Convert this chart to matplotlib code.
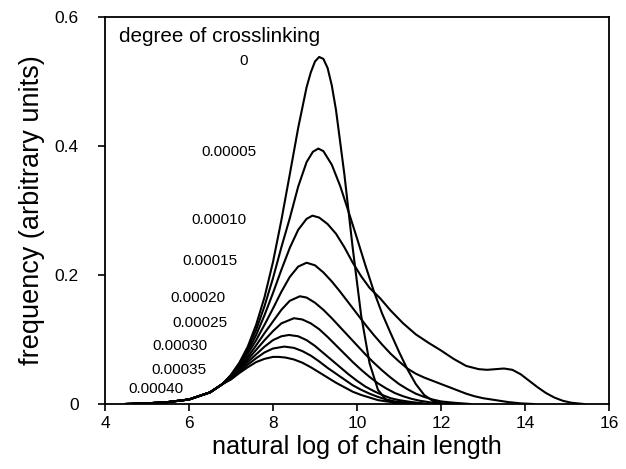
import matplotlib
matplotlib.use("Agg")
import matplotlib.pyplot as plt

plt.rcParams['font.family'] = ['Liberation Sans', 'DejaVu Sans']

# shared low-x part (all curves coincide there)
env_x = [4.5, 5.0, 5.5, 6.0, 6.5, 6.8]
env_y = [0.000, 0.001, 0.003, 0.007, 0.018, 0.031]

labels = ['0', '0.00005', '0.00010', '0.00015', '0.00020',
          '0.00025', '0.00030', '0.00035', '0.00040']

x_0 = [7.0, 7.2, 7.4, 7.6, 7.8, 8.0, 8.2, 8.4, 8.6, 8.8, 8.9, 9.0, 9.1, 9.2,
       9.3, 9.4, 9.5, 9.7, 9.9, 10.1, 10.3, 10.5, 10.7, 10.9, 11.2]
y_0 = [0.045, 0.064, 0.089, 0.123, 0.166, 0.220, 0.285, 0.356, 0.428, 0.491,
       0.514, 0.531, 0.538, 0.535, 0.521, 0.494, 0.456, 0.356, 0.241, 0.137,
       0.063, 0.022, 0.006, 0.001, 0.000]

x_5 = [7.0, 7.2, 7.4, 7.6, 7.8, 8.0, 8.2, 8.4, 8.6, 8.8, 8.95, 9.08, 9.2,
       9.4, 9.6, 9.8, 10.0, 10.2, 10.4, 10.6, 10.8, 11.0, 11.2, 11.4, 11.6,
       11.8, 12.0, 12.3]
y_5 = [0.045, 0.063, 0.086, 0.115, 0.152, 0.195, 0.243, 0.288, 0.337, 0.375,
       0.391, 0.396, 0.392, 0.371, 0.338, 0.298, 0.257, 0.215, 0.175, 0.140,
       0.110, 0.081, 0.054, 0.031, 0.014, 0.005, 0.001, 0.000]

x_10 = [7.0, 7.2, 7.4, 7.6, 7.8, 8.0, 8.2, 8.4, 8.6, 8.8, 8.94, 9.1, 9.3, 9.5,
        9.7, 9.9, 10.1, 10.3, 10.55, 10.8, 11.1, 11.4, 11.7, 12.0, 12.3, 12.6,
        12.9, 13.1, 13.3, 13.5, 13.7, 13.9, 14.1, 14.3, 14.5, 14.7, 14.9,
        15.1, 15.4]
y_10 = [0.044, 0.061, 0.082, 0.107, 0.138, 0.172, 0.208, 0.242, 0.270, 0.287,
        0.292, 0.289, 0.279, 0.264, 0.243, 0.219, 0.198, 0.180, 0.164, 0.145,
        0.125, 0.108, 0.095, 0.083, 0.070, 0.059, 0.054, 0.053, 0.054, 0.055,
        0.053, 0.046, 0.036, 0.026, 0.017, 0.010, 0.005, 0.002, 0.000]

x_15 = [7.0, 7.2, 7.4, 7.6, 7.8, 8.0, 8.2, 8.4, 8.6, 8.8, 9.0, 9.2, 9.4, 9.6,
        9.8, 10.0, 10.2, 10.4, 10.6, 10.8, 11.0, 11.2, 11.4, 11.6, 11.8, 12.0,
        12.2, 12.4, 12.6, 12.8, 13.0, 13.3, 13.6, 13.9, 14.2]
y_15 = [0.043, 0.059, 0.078, 0.099, 0.123, 0.148, 0.174, 0.197, 0.213, 0.219,
        0.215, 0.204, 0.190, 0.174, 0.157, 0.140, 0.123, 0.107, 0.092, 0.078,
        0.066, 0.055, 0.047, 0.041, 0.036, 0.031, 0.026, 0.021, 0.016, 0.012,
        0.009, 0.006, 0.003, 0.001, 0.000]

x_20 = [7.0, 7.2, 7.4, 7.6, 7.8, 8.0, 8.2, 8.4, 8.64, 8.8, 9.0, 9.2, 9.4, 9.6,
        9.8, 10.0, 10.2, 10.4, 10.6, 10.8, 11.0, 11.2, 11.4, 11.6, 11.8, 12.0,
        12.3, 12.7]
y_20 = [0.042, 0.056, 0.073, 0.091, 0.110, 0.128, 0.146, 0.160, 0.167, 0.165,
        0.157, 0.146, 0.133, 0.119, 0.105, 0.091, 0.077, 0.064, 0.052, 0.041,
        0.031, 0.023, 0.016, 0.011, 0.007, 0.004, 0.002, 0.000]

x_25 = [7.0, 7.2, 7.4, 7.6, 7.8, 8.0, 8.2, 8.5, 8.7, 8.9, 9.1, 9.3, 9.5, 9.7,
        9.9, 10.1, 10.3, 10.5, 10.7, 10.9, 11.1, 11.3, 11.5, 11.8, 12.2]
y_25 = [0.041, 0.054, 0.069, 0.084, 0.099, 0.113, 0.125, 0.133, 0.131, 0.125,
        0.116, 0.104, 0.091, 0.078, 0.065, 0.053, 0.042, 0.032, 0.024, 0.017,
        0.012, 0.008, 0.005, 0.002, 0.000]

x_30 = [7.0, 7.2, 7.4, 7.6, 7.8, 8.0, 8.2, 8.38, 8.6, 8.8, 9.0, 9.2, 9.4, 9.6,
        9.8, 10.0, 10.2, 10.4, 10.6, 10.8, 11.0, 11.3, 11.7]
y_30 = [0.040, 0.052, 0.065, 0.077, 0.089, 0.099, 0.105, 0.107, 0.105, 0.099,
        0.090, 0.079, 0.068, 0.057, 0.046, 0.036, 0.027, 0.020, 0.014, 0.009,
        0.006, 0.003, 0.000]

x_35 = [7.0, 7.2, 7.4, 7.6, 7.8, 8.0, 8.27, 8.5, 8.7, 8.9, 9.1, 9.3, 9.5, 9.7,
        9.9, 10.1, 10.3, 10.5, 10.7, 10.9, 11.2, 11.6]
y_35 = [0.039, 0.050, 0.061, 0.071, 0.080, 0.086, 0.089, 0.087, 0.082, 0.075,
        0.066, 0.056, 0.047, 0.038, 0.029, 0.022, 0.016, 0.011, 0.007, 0.004,
        0.002, 0.000]

x_40 = [7.0, 7.2, 7.4, 7.6, 7.8, 8.0, 8.14, 8.3, 8.5, 8.7, 8.9, 9.1, 9.3, 9.5,
        9.7, 9.9, 10.1, 10.3, 10.5, 10.7, 11.0, 11.4]
y_40 = [0.038, 0.048, 0.057, 0.065, 0.070, 0.073, 0.073, 0.072, 0.069, 0.064,
        0.057, 0.049, 0.041, 0.033, 0.026, 0.019, 0.014, 0.010, 0.006, 0.004,
        0.002, 0.000]

curves = [(x_0, y_0), (x_5, y_5), (x_10, y_10), (x_15, y_15), (x_20, y_20),
          (x_25, y_25), (x_30, y_30), (x_35, y_35), (x_40, y_40)]

# where the curve labels sit (data coords, centre)
label_x = [7.29, 6.94, 6.71, 6.50, 6.22, 6.26, 5.79, 5.75, 5.21]
label_y = [0.531, 0.390, 0.286, 0.221, 0.164, 0.125, 0.090, 0.053, 0.023]

fig = plt.figure(figsize=(6.26, 4.69), dpi=100)
ax = fig.add_axes([0.1677, 0.1386, 0.8051, 0.8252])

for (cx, cy) in curves:
    ax.plot(env_x + cx, env_y + cy, color='black', lw=1.5,
            solid_joinstyle='round')

for lab, lx, ly in zip(labels, label_x, label_y):
    ax.text(lx, ly, lab, fontsize=11, ha='center', va='center')

ax.text(4.33, 0.569, 'degree of crosslinking', fontsize=14.9,
        ha='left', va='center')

ax.set_xlim(4, 16)
ax.set_ylim(0, 0.6)
ax.set_xticks([4, 6, 8, 10, 12, 14, 16])
ax.set_yticks([0, 0.2, 0.4, 0.6])
ax.set_yticklabels(['0', '0.2', '0.4', '0.6'])
ax.tick_params(direction='out', length=5, width=1.2, labelsize=12.5)
ax.tick_params(axis='y', pad=14)
for s in ax.spines.values():
    s.set_linewidth(1.3)

ax.set_xlabel('natural log of chain length', fontsize=18.2, labelpad=3)
ax.set_ylabel('frequency (arbitrary units)', fontsize=19.5, labelpad=7)

fig.savefig('out.png', dpi=100)
